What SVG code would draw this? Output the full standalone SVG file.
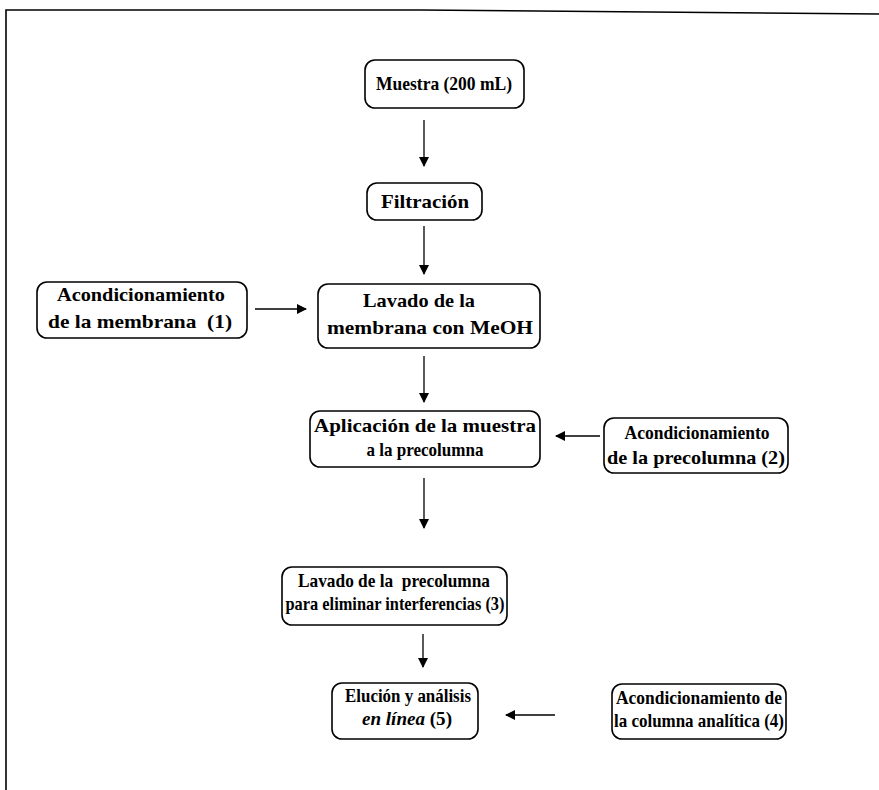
<svg xmlns="http://www.w3.org/2000/svg" width="879" height="790" viewBox="0 0 879 790">
<defs>
<marker id="ah" viewBox="0 0 10 10" refX="9" refY="5" markerWidth="10" markerHeight="10" markerUnits="userSpaceOnUse" orient="auto">
<path d="M0,0 L10,5 L0,10 Z" fill="#000"/>
</marker>
</defs>
<style>
.box{fill:#fff;stroke:#000;stroke-width:1.6}
.t{font-family:"Liberation Serif","Times New Roman",serif;font-weight:bold;font-size:19px;fill:#000;text-anchor:middle}
.c{stroke:#000;stroke-width:1.3;fill:none;marker-end:url(#ah)}
</style>
<rect width="879" height="790" fill="#fff"/>
<g id="frame">
<polyline points="6,790 6,10 420,10 879,14" fill="none" stroke="#000" stroke-width="1.6"/>
</g>
<g id="connectors">
<line class="c" x1="424" y1="120" x2="424" y2="166"/>
<line class="c" x1="424" y1="226" x2="424" y2="274"/>
<line class="c" x1="255" y1="309" x2="306" y2="309"/>
<line class="c" x1="424" y1="356" x2="424" y2="402"/>
<line class="c" x1="600" y1="436" x2="556" y2="436"/>
<line class="c" x1="424" y1="478" x2="424" y2="528"/>
<line class="c" x1="423" y1="634" x2="423" y2="667"/>
<line class="c" x1="555" y1="715" x2="506" y2="715"/>
</g>
<g id="n1">
<rect class="box" x="365" y="60" width="159" height="48" rx="10"/>
<text class="t" x="444" y="90" font-size="18.2" textLength="136" lengthAdjust="spacingAndGlyphs">Muestra (200 mL)</text>
</g>
<g id="n2">
<rect class="box" x="367" y="183" width="115" height="37" rx="10"/>
<text class="t" x="425" y="208" font-size="19.9" textLength="88" lengthAdjust="spacingAndGlyphs">Filtración</text>
</g>
<g id="n3">
<rect class="box" x="37" y="282" width="210" height="56" rx="10"/>
<text class="t" x="141" y="301" font-size="19.6" textLength="168" lengthAdjust="spacingAndGlyphs">Acondicionamiento</text>
<text class="t" x="140" y="328" font-size="20" textLength="184" lengthAdjust="spacingAndGlyphs" xml:space="preserve">de la membrana  (1)</text>
</g>
<g id="n4">
<rect class="box" x="318" y="284" width="222" height="64" rx="10"/>
<text class="t" x="419" y="307" font-size="19.7" textLength="112" lengthAdjust="spacingAndGlyphs">Lavado de la</text>
<text class="t" x="430" y="334" font-size="20" textLength="206" lengthAdjust="spacingAndGlyphs">membrana con MeOH</text>
</g>
<g id="n5">
<rect class="box" x="310" y="411" width="230" height="56" rx="10"/>
<text class="t" x="425" y="432" font-size="19.5" textLength="222" lengthAdjust="spacingAndGlyphs">Aplicación de la muestra</text>
<text class="t" x="425" y="456" font-size="18" textLength="117" lengthAdjust="spacingAndGlyphs">a la precolumna</text>
</g>
<g id="n6">
<rect class="box" x="604" y="418" width="184" height="55" rx="10"/>
<text class="t" x="697" y="439" font-size="18.2" textLength="145" lengthAdjust="spacingAndGlyphs">Acondicionamiento</text>
<text class="t" x="696" y="464" font-size="19.5" textLength="178" lengthAdjust="spacingAndGlyphs">de la precolumna (2)</text>
</g>
<g id="n7">
<rect class="box" x="282" y="567" width="225" height="58" rx="10"/>
<text class="t" x="394" y="587" font-size="18.1" textLength="192" lengthAdjust="spacingAndGlyphs" xml:space="preserve">Lavado de la  precolumna</text>
<text class="t" x="395" y="610" font-size="17.6" textLength="219" lengthAdjust="spacingAndGlyphs">para eliminar interferencias (3)</text>
</g>
<g id="n8">
<rect class="box" x="332" y="683" width="146" height="56" rx="10"/>
<text class="t" x="408" y="702" font-size="18" textLength="126" lengthAdjust="spacingAndGlyphs">Elución y análisis</text>
<text class="t" x="407" y="725" font-size="18.5" textLength="90" lengthAdjust="spacingAndGlyphs"><tspan font-style="italic">en línea</tspan> (5)</text>
</g>
<g id="n9">
<rect class="box" x="612" y="684" width="174" height="55" rx="10"/>
<text class="t" x="699" y="704" font-size="18.2" textLength="166" lengthAdjust="spacingAndGlyphs">Acondicionamiento de</text>
<text class="t" x="699" y="727" font-size="18" textLength="170" lengthAdjust="spacingAndGlyphs">la columna analítica (4)</text>
</g>
</svg>
